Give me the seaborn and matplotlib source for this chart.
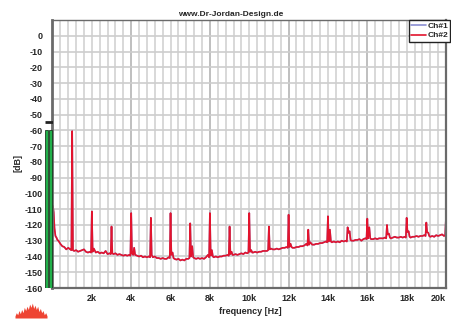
import pandas as pd
import numpy as np
import matplotlib
matplotlib.use('Agg')
import matplotlib.pyplot as plt
import seaborn as sns

# spectrum, one row per kHz band
freq_hz = [
    20, 60, 100, 150, 200, 250, 300, 400, 500, 600, 700, 800, 900, 960,
    1000, 1040, 1100, 1200, 1300, 1400, 1500, 1600, 1700, 1800, 1900, 1960,
    2000, 2040, 2100, 2200, 2300, 2400, 2500, 2600, 2700, 2800, 2900, 2960,
    3000, 3040, 3100, 3200, 3300, 3400, 3500, 3600, 3700, 3800, 3900, 3960,
    4000, 4040, 4100, 4150, 4200, 4300, 4400, 4500, 4600, 4700, 4800, 4900, 4960,
    5000, 5040, 5100, 5200, 5300, 5400, 5500, 5600, 5700, 5800, 5900, 5960,
    6000, 6040, 6100, 6150, 6200, 6300, 6400, 6500, 6600, 6700, 6800, 6900, 6960,
    7000, 7040, 7100, 7150, 7200, 7300, 7400, 7500, 7600, 7700, 7800, 7900, 7960,
    8000, 8040, 8100, 8150, 8200, 8300, 8400, 8500, 8600, 8700, 8800, 8900, 8960,
    9000, 9040, 9100, 9150, 9200, 9300, 9400, 9500, 9600, 9700, 9800, 9900, 9960,
    10000, 10040, 10100, 10150, 10200, 10300, 10400, 10500, 10600, 10700, 10800, 10900, 10960,
    11000, 11040, 11100, 11200, 11300, 11400, 11500, 11600, 11700, 11800, 11900, 11960,
    12000, 12040, 12100, 12150, 12200, 12300, 12400, 12500, 12600, 12700, 12800, 12900, 12960,
    13000, 13040, 13100, 13200, 13300, 13400, 13500, 13600, 13700, 13800, 13900, 13960,
    14000, 14040, 14100, 14150, 14200, 14300, 14400, 14500, 14600, 14700, 14800, 14900, 14960,
    15000, 15040, 15100, 15150, 15200, 15300, 15400, 15500, 15600, 15700, 15800, 15900, 15960,
    16000, 16040, 16100, 16150, 16200, 16300, 16400, 16500, 16600, 16700, 16800, 16900, 16960,
    17000, 17040, 17100, 17150, 17200, 17300, 17400, 17500, 17600, 17700, 17800, 17900, 17960,
    18000, 18040, 18100, 18150, 18200, 18300, 18400, 18500, 18600, 18700, 18800, 18900, 18960,
    19000, 19040, 19100, 19150, 19200, 19300, 19400, 19500, 19600, 19700, 19800, 19900, 19960,
    20000,
]
ch2_db = [
    -108, -112, -122, -127, -128, -129.5, -130, -132, -133.5, -134, -135.5, -134.5, -135.5, -136,
    -60.5, -136, -136.5, -136, -137, -136.5, -136, -135.5, -137, -137.5, -137, -137.5,
    -111.5, -137, -135, -137.5, -137, -138, -137.5, -138, -136.5, -138.5, -138, -138.5,
    -121, -138, -138.5, -138, -139, -138.5, -139, -139.5, -139, -139.5, -139, -139.5,
    -112.5, -138, -139, -134.5, -139, -139.5, -140, -139.5, -140.5, -140, -140.5, -140, -140.5,
    -115.5, -139, -140.5, -140, -141, -141, -141.5, -141, -141.5, -141.5, -140.5, -141,
    -112.5, -139, -137.5, -141, -141.5, -142, -141.5, -142.5, -142, -142.5, -141.5, -141.5, -141,
    -119, -140, -133.5, -140.5, -141, -141.5, -141, -141.5, -141, -141.5, -140.5, -139, -140.5,
    -112.5, -139.5, -136, -140, -140.5, -140, -140.5, -140, -140, -139.5, -139.5, -139, -139.5,
    -121, -138.5, -137, -139, -139, -138.5, -139, -138.5, -138, -138.5, -137.5, -138, -137.5,
    -112.5, -137, -136, -137.5, -137.5, -137, -137.5, -137, -137, -136.5, -136.5, -136.5, -136,
    -121, -135.5, -135, -135.5, -135.5, -135, -135.5, -135, -134.5, -134.5, -134, -134.5,
    -113.5, -134, -132, -134, -134.5, -134.5, -134, -134, -133.5, -133.5, -133, -132, -133,
    -123, -132.5, -131, -132.5, -132.5, -132, -132, -131.5, -131.5, -131, -130.5, -131,
    -114.5, -130.5, -123, -130.5, -131, -130.5, -131, -130.5, -131, -130, -130.5, -130, -130.5,
    -121.5, -125, -124, -129.5, -130, -130, -129.5, -129.5, -129, -130, -129, -128.5, -129,
    -116, -128.5, -121.5, -128.5, -129, -129, -128.5, -129, -128.5, -128.5, -128.5, -128, -128.5,
    -120, -126, -125.5, -128, -128.5, -128, -127.5, -128, -128, -127.5, -128, -127.5, -128,
    -115.5, -124.5, -124, -127.5, -128, -127.5, -127.5, -127, -127.5, -127, -127, -126.5, -127,
    -118.5, -124.5, -125, -127, -127.5, -127, -127.5, -126.5, -127, -126.5, -126, -127, -126.5,
    -115,
]
# Ch#1 lies under Ch#2 almost everywhere
ch1_db = list(ch2_db)

channels = ['Ch#1', 'Ch#2']
ch_colors = {'Ch#1': '#8a8ed2', 'Ch#2': '#e2142e'}

y_ticks = list(range(0, -161, -10))
x_ticks = [2000, 4000, 6000, 8000, 10000, 12000, 14000, 16000, 18000, 20000]
x_labels = ['2k', '4k', '6k', '8k', '10k', '12k', '14k', '16k', '18k', '20k']

meter_db = [-60, -60]
meter_peak = -55

logo_h = [2, 5, 3, 7, 4, 8, 5, 10, 7, 11, 8, 13, 10, 14, 9, 12, 8, 11, 6, 9, 5, 7, 3, 5, 2]

df = pd.DataFrame({
    'freq': freq_hz * 2,
    'db': ch1_db + ch2_db,
    'channel': ['Ch#1'] * len(freq_hz) + ['Ch#2'] * len(freq_hz),
})

sns.set_style('white')
plt.rcParams['font.family'] = ['Liberation Sans', 'DejaVu Sans']
plt.rcParams['font.weight'] = 'bold'
plt.rcParams['axes.unicode_minus'] = False

fig = plt.figure(figsize=(4.52, 3.2), dpi=100)
ax = fig.add_axes([52.5 / 452, 32 / 320, 393.5 / 452, 268 / 320])

# grid
for x in range(400, 20000, 400):
    c = '#b4b4b4' if x % 4000 == 0 else '#d2d2d2'
    ax.axvline(x, color=c, lw=1.2, zorder=0)
for y in range(0, -160, -10):
    ax.axhline(y, color='#cdcdcd', lw=1.2, zorder=0)

sns.lineplot(data=df, x='freq', y='db', hue='channel', hue_order=channels,
             palette=ch_colors, estimator=None, lw=1.2, ax=ax)

ax.set_xlim(0, 20000)
ax.set_ylim(-160, 10)
ax.set_yticks(y_ticks)
ax.set_yticklabels([str(v) for v in y_ticks])
ax.set_xticks(x_ticks)
ax.set_xticklabels(x_labels)
ax.tick_params(axis='y', length=0, pad=7, labelsize=6.5)
ax.tick_params(axis='x', length=0, pad=4, labelsize=6.5)
# last label sits at the figure edge: pull it in so it stays whole
ax.get_xticklabels()[-1].set_horizontalalignment('right')
ax.set_xlabel('')
ax.set_ylabel('')
for side, lw in [('left', 2.0), ('top', 1.0), ('right', 1.6), ('bottom', 1.6)]:
    ax.spines[side].set_color('#6a6a6a')
    ax.spines[side].set_linewidth(lw)

h, l = ax.get_legend_handles_labels()
leg = ax.legend(h, l, loc='upper right', bbox_to_anchor=(450 / 452, 1 - 20 / 320),
                bbox_transform=fig.transFigure, borderaxespad=0, frameon=True,
                fancybox=False, edgecolor='#222222', framealpha=1,
                prop={'size': 6, 'weight': 'bold'}, borderpad=0.25,
                handlelength=1.8, handletextpad=0.1, labelspacing=0.2)
leg.get_frame().set_linewidth(1.0)
for line in leg.get_lines():
    line.set_linewidth(1.2)

# level meter left of the plot
mx = fig.add_axes([45 / 452, 32 / 320, 8 / 452, 268 / 320])
mx.bar([0, 1], [v + 160 for v in meter_db], bottom=-160, width=0.75,
       color='#22b04a', edgecolor='#1a3a20', lw=0.6)
mx.hlines(meter_peak, -0.45, 1.45, color='#222222', lw=2)
mx.set_xlim(-0.5, 1.5)
mx.set_ylim(-160, 10)
mx.axis('off')

# little logo
la = fig.add_axes([15 / 452, 2 / 320, 32 / 452, 16 / 320])
la.fill_between(range(len(logo_h)), logo_h, color='#ee4433', lw=0)
la.set_xlim(0, len(logo_h) - 1)
la.set_ylim(0, 15)
la.axis('off')

fig.text(231 / 452, 1 - 14 / 320, 'www.Dr-Jordan-Design.de', ha='center', va='center',
         fontsize=6, weight='bold')
fig.text(18 / 452, 1 - 163 / 320, '[dB]', ha='center', va='center', rotation=90,
         fontsize=6.5, weight='bold')
fig.text(250 / 452, 1 - 312 / 320, 'frequency [Hz]', ha='center', va='center',
         fontsize=6.5, weight='bold')

fig.savefig('out.png', dpi=100, facecolor='white')
